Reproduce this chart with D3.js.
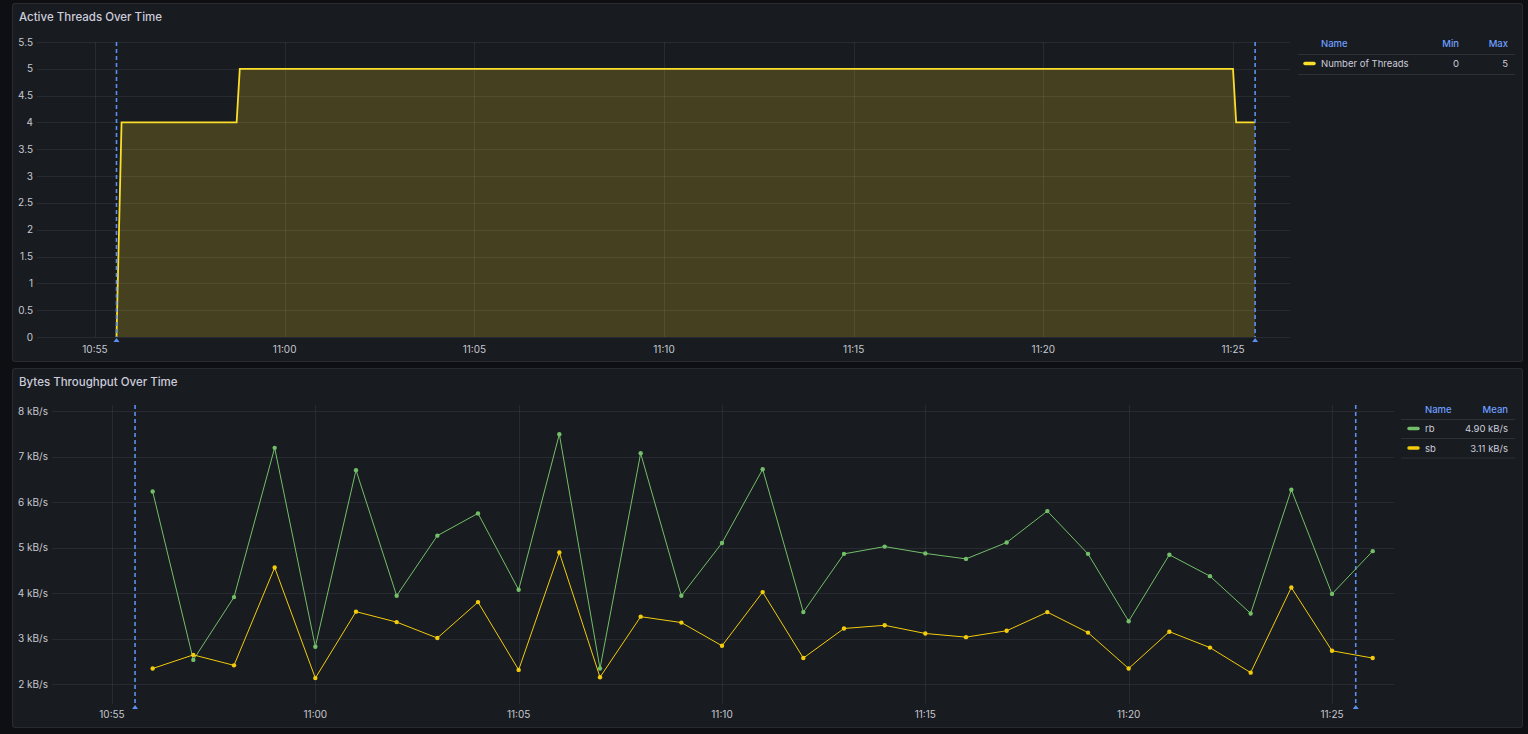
<!DOCTYPE html>
<html>
<head>
<meta charset="utf-8">
<script src="https://cdn.jsdelivr.net/npm/d3@7"></script>
<style>
  html, body { margin: 0; padding: 0; background: #0e0f12; }
  svg { display: block; font-family: Inter, "Noto Sans", sans-serif; }
</style>
</head>
<body>
<svg id="chart" width="1528" height="734"></svg>
<script>
// ---------- DATA ----------
const threadTimes  = ["10:55:34", "10:55:42", "10:58:44", "10:58:49", "11:25:00", "11:25:05", "11:25:35"];
const threadValues = [0, 4, 4, 5, 5, 4, 4];
const threadTicks  = [0, 0.5, 1, 1.5, 2, 2.5, 3, 3.5, 4, 4.5, 5, 5.5];

const byteTimes = ["10:56","10:57","10:58","10:59","11:00","11:01","11:02","11:03","11:04","11:05",
                   "11:06","11:07","11:08","11:09","11:10","11:11","11:12","11:13","11:14","11:15",
                   "11:16","11:17","11:18","11:19","11:20","11:21","11:22","11:23","11:24","11:25","11:26"];
const rbValues = [6.23,2.53,3.91,7.19,2.82,6.70,3.94,5.26,5.75,4.07,
                  7.49,2.34,7.07,3.94,5.10,6.72,3.58,4.86,5.02,4.87,
                  4.75,5.11,5.80,4.86,3.38,4.84,4.37,3.55,6.27,3.98,4.92];
const sbValues = [2.34,2.64,2.41,4.56,2.13,3.59,3.36,3.01,3.80,2.31,
                  4.89,2.15,3.48,3.35,2.84,4.02,2.57,3.22,3.29,3.11,
                  3.03,3.17,3.58,3.13,2.34,3.15,2.80,2.25,4.12,2.73,2.57];
const byteTicks = [2, 3, 4, 5, 6, 7, 8];

const annotationTimes = ["10:55:34", "11:25:35"];
const axisAnchorTimes = ["10:55", "11:25"];

const threadLegend = { headers: ["Name", "Min", "Max"], rows: [["Number of Threads", "0", "5"]] };
const byteLegendHeaders = ["Name", "Mean"];
const byteSeriesNames = ["rb", "sb"];
const byteSeriesMeans = ["4.90 kB/s", "3.11 kB/s"];

// ---------- HELPERS ----------
const parseT = s => { const p = s.split(":").map(Number); return new Date(2024, 0, 1, p[0], p[1], p[2] || 0); };
const fmtTime = d3.timeFormat("%H:%M");
const svg = d3.select("#chart");

const C = {
  panel: "#181b1f", border: "rgba(204,204,220,0.12)", grid: "rgba(204,204,220,0.09)",
  text: "#ccccdc", tick: "#c7c7d1", blue: "#6e9fff", annot: "#5b8ff0",
  yellow: "#fade2a", green: "#73bf69", sb: "#f2cc0c"
};

function panel(x, y, w, h, title) {
  svg.append("rect").attr("x", x + 0.5).attr("y", y + 0.5).attr("width", w).attr("height", h)
    .attr("rx", 2).attr("fill", C.panel).attr("stroke", C.border);
  svg.append("text").attr("x", x + 7).attr("y", y + 18).attr("fill", C.text)
    .attr("font-size", 11.5).attr("font-weight", 500).text(title);
}

function grid(g, xs, ys, box, xTicks, yTicks) {
  g.selectAll(".hg").data(yTicks).join("line")
    .attr("x1", box.x0).attr("x2", box.x1)
    .attr("y1", d => Math.round(ys(d)) + 0.5).attr("y2", d => Math.round(ys(d)) + 0.5)
    .attr("stroke", C.grid);
  g.selectAll(".vg").data(xTicks).join("line")
    .attr("y1", box.y0).attr("y2", box.y1)
    .attr("x1", d => Math.round(xs(d)) + 0.5).attr("x2", d => Math.round(xs(d)) + 0.5)
    .attr("stroke", C.grid);
}

function annotations(g, xs, box) {
  annotationTimes.map(parseT).forEach(t => {
    const x = xs(t);
    g.append("line").attr("x1", x).attr("x2", x).attr("y1", box.y0).attr("y2", box.y1)
      .attr("stroke", C.annot).attr("stroke-width", 1.6).attr("stroke-dasharray", "4,3");
    g.append("path").attr("d", `M${x - 3},${box.y1 + 5} L${x + 3},${box.y1 + 5} L${x},${box.y1 + 1} Z`)
      .attr("fill", C.annot);
  });
}

function legendRow(g, x0, x1, y) {
  g.append("line").attr("x1", x0).attr("x2", x1).attr("y1", y + 0.5).attr("y2", y + 0.5)
    .attr("stroke", "rgba(204,204,220,0.12)");
}

// ---------- TOP PANEL ----------
panel(12, 3, 1510, 358, "Active Threads Over Time");
{
  const box = { x0: 37, x1: 1290, y0: 42, y1: 337 };
  const x = d3.scaleTime().domain(axisAnchorTimes.map(parseT)).range([95, 1233]);
  const y = d3.scaleLinear().domain([0, 5.5]).range([box.y1, box.y0]);
  const xt = d3.timeMinute.every(5).range(x.invert(box.x0), x.invert(box.x1));
  const g = svg.append("g");
  grid(g, x, y, box, xt, threadTicks);

  const pts = threadTimes.map((t, i) => ({ t: parseT(t), v: threadValues[i] }));
  g.append("path").datum(pts)
    .attr("d", d3.area().x(d => x(d.t)).y0(y(0)).y1(d => y(d.v)))
    .attr("fill", C.yellow).attr("fill-opacity", 0.2);
  g.append("path").datum(pts)
    .attr("d", d3.line().x(d => x(d.t)).y(d => y(d.v)))
    .attr("fill", "none").attr("stroke", C.yellow).attr("stroke-width", 1.8);

  annotations(g, x, box);

  g.selectAll(".yl").data(threadTicks).join("text")
    .attr("x", 33).attr("y", d => y(d)).attr("dy", "0.35em").attr("text-anchor", "end")
    .attr("font-size", 10).attr("fill", C.tick).text(d => d3.format("~g")(d));
  g.selectAll(".xl").data(xt).join("text")
    .attr("x", d => x(d)).attr("y", 353).attr("text-anchor", "middle")
    .attr("font-size", 10).attr("fill", C.tick).text(d => fmtTime(d));

  // legend
  const L = svg.append("g").attr("font-size", 9.5);
  const cols = [1321, 1459, 1508];
  threadLegend.headers.forEach((h, i) => {
    L.append("text").attr("x", cols[i]).attr("y", 47).attr("text-anchor", i === 0 ? "start" : "end")
      .attr("fill", C.blue).attr("font-weight", 500).text(h);
  });
  legendRow(L, 1298, 1515, 54);
  threadLegend.rows.forEach((r, j) => {
    const yy = 67 + j * 19;
    L.append("line").attr("x1", 1305).attr("x2", 1314).attr("y1", yy - 3.5).attr("y2", yy - 3.5)
      .attr("stroke", C.yellow).attr("stroke-width", 3.5).attr("stroke-linecap", "round");
    r.forEach((c, i) => {
      L.append("text").attr("x", cols[i]).attr("y", yy).attr("text-anchor", i === 0 ? "start" : "end")
        .attr("fill", C.text).text(c);
    });
    legendRow(L, 1298, 1515, yy + 7);
  });
}

// ---------- BOTTOM PANEL ----------
panel(12, 368, 1510, 359, "Bytes Throughput Over Time");
{
  const box = { x0: 52, x1: 1394, y0: 405, y1: 704 };
  const x = d3.scaleTime().domain(axisAnchorTimes.map(parseT)).range([112, 1332]);
  const y = d3.scaleLinear().domain([2, 8]).range([684, 411]);
  const xt = d3.timeMinute.every(5).range(x.invert(box.x0), x.invert(box.x1));
  const g = svg.append("g");
  grid(g, x, y, box, xt, byteTicks);
  annotations(g, x, box);

  const series = [
    { name: byteSeriesNames[0], vals: rbValues, color: C.green },
    { name: byteSeriesNames[1], vals: sbValues, color: C.sb }
  ];
  series.forEach(s => {
    const pts = byteTimes.map((t, i) => ({ t: parseT(t), v: s.vals[i] }));
    g.append("path").datum(pts)
      .attr("d", d3.line().x(d => x(d.t)).y(d => y(d.v)))
      .attr("fill", "none").attr("stroke", s.color).attr("stroke-width", 1);
    g.selectAll(null).data(pts).join("circle")
      .attr("cx", d => x(d.t)).attr("cy", d => y(d.v)).attr("r", 2.2).attr("fill", s.color);
  });

  g.selectAll(".yl").data(byteTicks).join("text")
    .attr("x", 48).attr("y", d => y(d)).attr("dy", "0.35em").attr("text-anchor", "end")
    .attr("font-size", 10).attr("fill", C.tick).text(d => d + " kB/s");
  g.selectAll(".xl").data(xt).join("text")
    .attr("x", d => x(d)).attr("y", 718).attr("text-anchor", "middle")
    .attr("font-size", 10).attr("fill", C.tick).text(d => fmtTime(d));

  const L = svg.append("g").attr("font-size", 9.5);
  const cols = [1425, 1508];
  byteLegendHeaders.forEach((h, i) => {
    L.append("text").attr("x", cols[i]).attr("y", 413).attr("text-anchor", i === 0 ? "start" : "end")
      .attr("fill", C.blue).attr("font-weight", 500).text(h);
  });
  legendRow(L, 1401, 1515, 419);
  series.forEach((s, j) => {
    const yy = 432 + j * 19.5;
    L.append("line").attr("x1", 1409).attr("x2", 1418).attr("y1", yy - 3.5).attr("y2", yy - 3.5)
      .attr("stroke", s.color).attr("stroke-width", 3.5).attr("stroke-linecap", "round");
    L.append("text").attr("x", cols[0]).attr("y", yy).attr("fill", C.text).text(s.name);
    L.append("text").attr("x", cols[1]).attr("y", yy).attr("text-anchor", "end")
      .attr("fill", C.text).text(byteSeriesMeans[j]);
    legendRow(L, 1401, 1515, yy + 6);
  });
}
</script>
</body>
</html>
